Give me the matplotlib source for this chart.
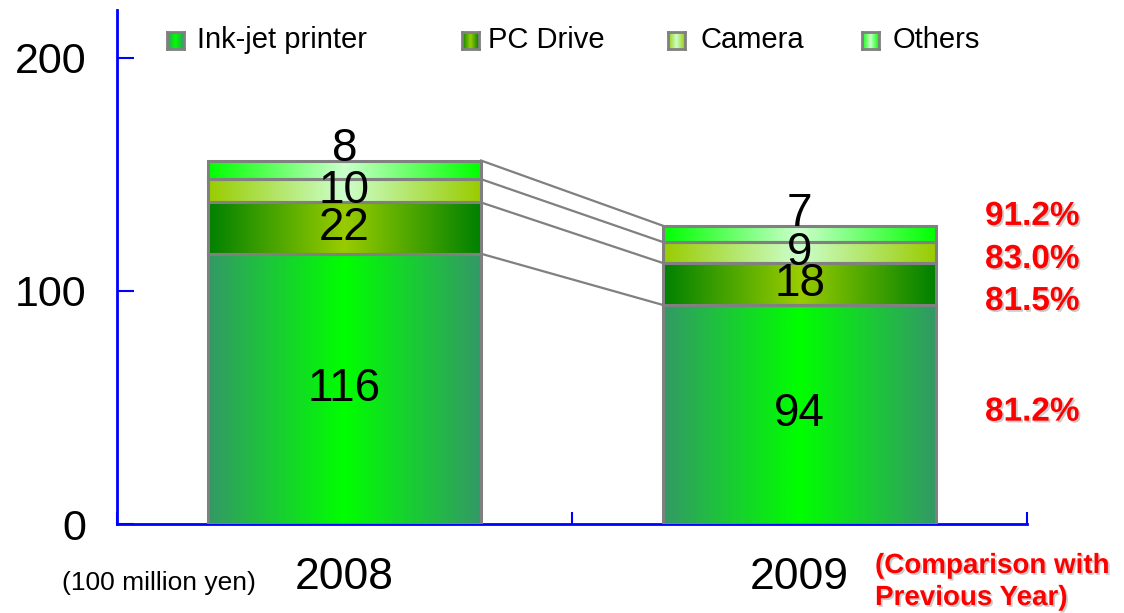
import numpy as np
import matplotlib
matplotlib.use("Agg")
import matplotlib.pyplot as plt
import matplotlib.transforms as mtransforms
import matplotlib.patheffects as pe
from matplotlib.colors import to_rgb

# ---- data ----
years = ["2008", "2009"]
categories = ["Ink-jet printer", "PC Drive", "Camera", "Others"]
inkjet = [116, 94]
pc_drive = [22, 18]
camera = [10, 9]
others = [8, 7]
ratios = ["81.2%", "81.5%", "83.0%", "91.2%"]

series = [inkjet, pc_drive, camera, others]

# gradient colours (edge, centre) per category
grad_cols = [("#339966", "#00FF00"),
             ("#008000", "#99CC00"),
             ("#99CC00", "#CCFFCC"),
             ("#00FF00", "#CCFFCC")]

plt.rcParams["font.family"] = ["Liberation Sans", "DejaVu Sans"]

fig = plt.figure(figsize=(11.24, 6.13), dpi=100)
ax = fig.add_axes([117/1124, 1-524/613, 910/1124, 514/613])

def gradient(edge, centre, n=256):
    e = np.array(to_rgb(edge)); c = np.array(to_rgb(centre))
    t = np.abs(np.linspace(-1, 1, n))[:, None]
    return (c * (1 - t) + e * t)[None, :, :]

x = np.arange(len(years))
width = 0.6
bottoms = np.zeros(len(years))
bounds = []
for vals, (ec, cc) in zip(series, grad_cols):
    vals = np.array(vals, dtype=float)
    bars = ax.bar(x, vals, width, bottom=bottoms, facecolor="none",
                  edgecolor="#808080", linewidth=2.2, zorder=3)
    for b in bars:
        ax.imshow(gradient(ec, cc), extent=(b.get_x(), b.get_x()+b.get_width(),
                  b.get_y(), b.get_y()+b.get_height()), aspect="auto", zorder=2,
                  interpolation="bilinear")
    bottoms = bottoms + vals
    bounds.append(bottoms.copy())

# connector lines
for bd in bounds:
    ax.plot([x[0]+width/2, x[1]-width/2], [bd[0], bd[1]], color="#808080",
            lw=1.6, zorder=1)

# value labels
bottoms = np.zeros(len(years))
for k, vals in enumerate(series):
    for i, v in enumerate(vals):
        if k == len(series) - 1:
            yy = bottoms[i] + v + 5.0
        else:
            yy = bottoms[i] + v / 2
        ax.text(x[i], yy, str(v), ha="center", va="center", fontsize=33,
                color="black", zorder=5)
    bottoms = bottoms + np.array(vals)

ax.set_xlim(-0.5, 1.5)
ax.set_ylim(0, 220.6)

shadow = [pe.SimplePatchShadow(offset=(1.3, -1.3), shadow_rgbFace="#999999", alpha=0.5), pe.Normal()]

# ratio labels
ratio_y = [48, 95.5, 113.5, 132]
trans_r = mtransforms.blended_transform_factory(fig.transFigure, ax.transData)
for r, yy in zip(ratios, ratio_y):
    t = ax.text(985/1124, yy, r, transform=trans_r, ha="left", va="center",
                fontsize=24, fontweight="bold", color="#FF0000")
    t.set_path_effects(shadow)

# axes styling
for s in ["top", "right"]:
    ax.spines[s].set_visible(False)
for s in ["left", "bottom"]:
    ax.spines[s].set_color("#0000FF")
    ax.spines[s].set_linewidth(2)
ax.set_yticks([0, 100, 200])
ax.tick_params(axis="y", direction="in", length=12, width=1.5, color="#0000FF",
               labelsize=31, pad=22)
ax.set_xticks([-0.5, 0.5, 1.5])
ax.set_xticklabels([])
ax.tick_params(axis="x", direction="in", length=9, width=1.5, color="#0000FF")

# year labels
trans_y = mtransforms.blended_transform_factory(ax.transData, ax.transAxes)
for i, yr in enumerate(years):
    ax.text(x[i], -0.105, yr, transform=trans_y, ha="center", va="center", fontsize=32)
fig.text(62/1124, 1-583/613, "(100 million yen)", ha="left", va="center", fontsize=19)
ct = fig.text(875/1124, 1-582/613, "(Comparison with\nPrevious Year)", ha="left",
              va="center", fontsize=20, fontweight="bold", color="#FF0000", linespacing=1.3)
ct.set_path_effects(shadow)

# legend (manual)
leg_sq_x = [167, 462, 668, 862]
leg_tx_x = [197, 488, 700, 893]
for (ec, cc), lab, sx, tx in zip(grad_cols, categories, leg_sq_x, leg_tx_x):
    la = fig.add_axes([sx/1124, 1-49/613, 17/1124, 17/613])
    la.imshow(gradient(ec, cc), aspect="auto", extent=(0, 1, 0, 1))
    la.set_xticks([]); la.set_yticks([])
    for sp in la.spines.values():
        sp.set_color("#808080"); sp.set_linewidth(2)
    fig.text(tx/1124, 1-40/613, lab, ha="left", va="center", fontsize=21)

fig.savefig("out.png", dpi=100)
